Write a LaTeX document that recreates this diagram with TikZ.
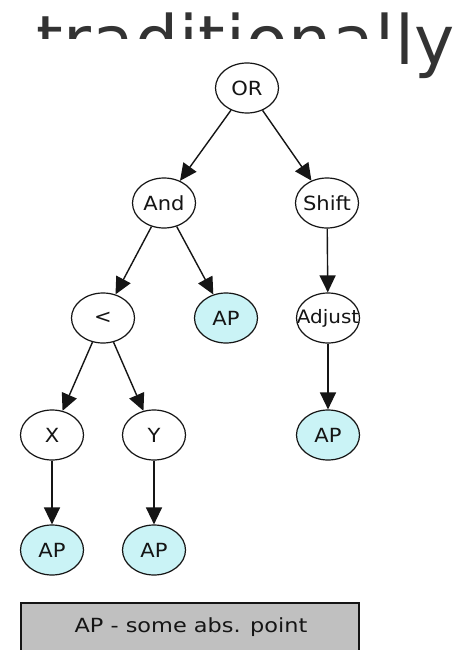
\documentclass[tikz,border=0pt]{standalone}
\usepackage{fontspec}
\usetikzlibrary{arrows.meta,shapes.geometric}
\newfontfamily\titlefont[LetterSpace=1.3]{DejaVu Sans}
\newfontfamily\nodefont[FakeStretch=1.08]{DejaVu Sans}
\newfontfamily\legendfont[FakeStretch=1.15]{DejaVu Sans}
\definecolor{titlegray}{HTML}{333333}
\definecolor{apfill}{HTML}{CAF3F6}
\definecolor{legendfill}{HTML}{C0C0C0}
\definecolor{inkgray}{HTML}{151515}
\newcommand\lbl[1]{\makebox[0pt]{#1}}
\tikzset{
  opnode/.style={ellipse, draw=inkgray, line width=1.2pt, fill=white,
    minimum width=63pt, minimum height=50pt, inner sep=0pt,
    font=\nodefont\fontsize{19.5}{20}\selectfont, text=inkgray},
  apnode/.style={opnode, fill=apfill},
  edge/.style={draw=inkgray, line width=1.4pt,
    -{Triangle[length=17pt,width=16pt]}},
}
\begin{document}
\begin{tikzpicture}[x=1pt,y=-1pt]
\useasboundingbox (0,0) rectangle (460,650);
\fill[white] (0,0) rectangle (460,650);
% title, partly covered by the diagram image
\node[anchor=base west, inner sep=0pt, text=titlegray,
  font=\titlefont\fontsize{68}{70}\selectfont] (title) at (36,65) {traditionally};
\fill[white] (0,39) rectangle (388,650);
% tree
\node[opnode] (or) at (247,88) {\lbl{OR}};
\node[opnode] (and) at (164,203) {\lbl{And}};
\node[opnode] (shift) at (327,203) {\lbl{Shift}};
\node[opnode] (lt) at (103,318) {\lbl{<}};
\node[apnode] (ap1) at (226,318) {\lbl{AP}};
\node[opnode] (adjust) at (328,318) {\lbl{\fontsize{18.5}{19}\selectfont Adjust}};
\node[opnode] (x) at (52,435) {\lbl{X}};
\node[opnode] (y) at (154,435) {\lbl{Y}};
\node[apnode] (ap2) at (328,435) {\lbl{AP}};
\node[apnode] (ap3) at (52,550) {\lbl{AP}};
\node[apnode] (ap4) at (154,550) {\lbl{AP}};
\draw[edge] (or) -- (and);
\draw[edge] (or) -- (shift);
\draw[edge] (and) -- (lt);
\draw[edge] (and) -- (ap1);
\draw[edge] (shift) -- (adjust);
\draw[edge] (lt) -- (x);
\draw[edge] (lt) -- (y);
\draw[edge] (adjust) -- (ap2);
\draw[edge] (x) -- (ap3);
\draw[edge] (y) -- (ap4);
% legend
\draw[draw=inkgray, line width=1.3pt, fill=legendfill] (21,603) rectangle (359,665);
\node[text=inkgray, font=\legendfont\fontsize{19.5}{20}\selectfont] (legend) at (191,627) {AP - some abs. point};
\end{tikzpicture}
\end{document}
